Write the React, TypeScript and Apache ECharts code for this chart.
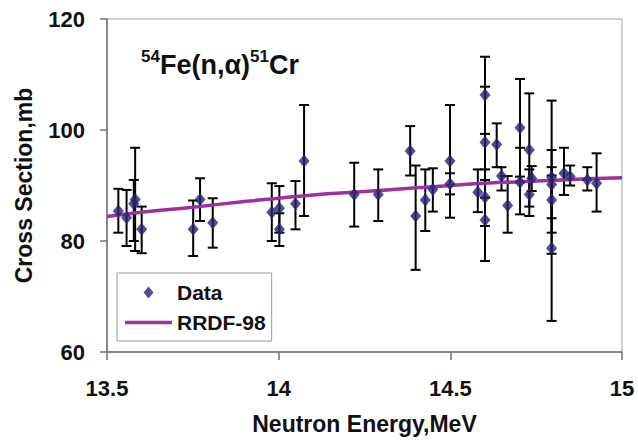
import React, { useEffect, useRef } from "react";
import * as echarts from "echarts";

// Measured data: neutron energy (MeV), cross section (mb), error-bar low / high (mb)
const energy = [
  13.533, 13.557, 13.578, 13.582, 13.601, 13.751, 13.771, 13.808, 13.98, 14.002,
  14.002, 14.049, 14.074, 14.22, 14.29, 14.383, 14.399, 14.427, 14.449, 14.499,
  14.499, 14.58, 14.601, 14.601, 14.601, 14.601, 14.635, 14.649, 14.667, 14.703,
  14.703, 14.73, 14.73, 14.737, 14.795, 14.795, 14.795, 14.795, 14.831, 14.849,
  14.899, 14.926,
];
const sigma = [
  85.4, 84.2, 86.7, 87.5, 82.1, 82.1, 87.5, 83.3, 85.2, 85.9,
  82.1, 86.7, 94.4, 88.4, 88.4, 96.2, 84.5, 87.4, 89.3, 94.4,
  90.3, 88.8, 106.3, 97.8, 87.9, 83.8, 97.4, 91.7, 86.4, 100.4,
  90.6, 96.4, 88.4, 91.3, 91.5, 90.2, 87.4, 78.7, 92.2, 91.6,
  91.0, 90.4,
];
const errLow = [
  81.5, 79.1, 80.0, 78.2, 77.8, 77.3, 83.6, 78.8, 80.0, 81.5,
  79.1, 82.1, 84.5, 82.6, 83.6, 91.8, 74.8, 81.8, 85.3, 84.2,
  88.4, 85.2, 99.3, 87.8, 82.7, 76.4, 93.3, 89.1, 81.5, 91.6,
  84.8, 86.2, 84.5, 89.0, 77.7, 84.1, 81.5, 65.6, 88.3, 90.0,
  89.1, 85.3,
];
const errHigh = [
  89.4, 89.2, 91.0, 96.8, 86.2, 87.3, 91.3, 87.7, 90.4, 89.9,
  85.0, 90.8, 104.5, 94.1, 92.9, 100.7, 93.6, 92.9, 93.1, 104.5,
  92.2, 92.9, 113.2, 107.8, 92.9, 91.0, 101.2, 93.3, 91.7, 109.2,
  96.8, 106.6, 92.9, 93.5, 105.3, 96.4, 93.3, 91.8, 96.8, 93.6,
  93.3, 95.8,
];

// RRDF-98 evaluation curve
const curveE = [13.5, 13.6, 13.75, 13.9, 14.0, 14.1, 14.25, 14.4, 14.5, 14.6, 14.75, 14.9, 15.0];
const curveV = [84.4, 85.2, 86.1, 87.1, 87.7, 88.3, 88.9, 89.6, 90.0, 90.4, 90.8, 91.2, 91.4];

const xTicks = ["13.5", "14", "14.5", "15"];
const yTicks = ["60", "80", "100", "120"];

export default function App() {
  const ref = useRef<HTMLDivElement>(null);
  useEffect(() => {
    if (!ref.current) return;
    const chart = echarts.init(ref.current, null, { renderer: "svg" });
    const font = "Arial, 'Liberation Sans', sans-serif";
    const scatterData = energy.map((e, i) => [e, sigma[i]]);
    const errData = energy.map((e, i) => [e, errLow[i], errHigh[i]]);
    const lineData = curveE.map((e, i) => [e, curveV[i]]);
    chart.setOption({
      animation: false,
      backgroundColor: "#ffffff",
      textStyle: { fontFamily: font },
      grid: {
        left: 107,
        right: 16,
        top: 19,
        bottom: 93,
        show: true,
        borderColor: "#a0a0a0",
        borderWidth: 1,
        backgroundColor: "#ffffff",
      },
      xAxis: {
        type: "value",
        min: 13.5,
        max: 15,
        interval: 0.5,
        name: "Neutron Energy,MeV",
        nameLocation: "middle",
        nameGap: 60,
        nameTextStyle: { fontSize: 23, fontWeight: "bold", color: "#111", fontFamily: font },
        axisLine: { show: true, onZero: false, lineStyle: { color: "#707070", width: 1.5 } },
        axisTick: { show: true, inside: false, length: 8, lineStyle: { color: "#707070", width: 1.5 } },
        axisLabel: {
          margin: 25,
          fontSize: 22,
          fontWeight: "bold",
          color: "#111",
          fontFamily: font,
          formatter: (v: number) => {
            const idx = Math.round((v - 13.5) / 0.5);
            return xTicks[idx] ?? String(v);
          },
        },
        splitLine: { show: false },
      },
      yAxis: {
        type: "value",
        min: 60,
        max: 120,
        interval: 20,
        name: "Cross Section,mb",
        nameLocation: "middle",
        nameGap: 72,
        nameTextStyle: { fontSize: 23, fontWeight: "bold", color: "#111", fontFamily: font },
        axisLine: { show: true, onZero: false, lineStyle: { color: "#707070", width: 1.5 } },
        axisTick: { show: true, inside: false, length: 7, lineStyle: { color: "#707070", width: 1.5 } },
        axisLabel: {
          margin: 22,
          fontSize: 22,
          fontWeight: "bold",
          color: "#111",
          fontFamily: font,
          formatter: (v: number) => {
            const idx = Math.round((v - 60) / 20);
            return yTicks[idx] ?? String(v);
          },
        },
        splitLine: { show: false },
      },
      legend: {
        orient: "vertical",
        left: 117,
        top: 273,
        padding: [9, 6, 8, 8],
        itemGap: 9,
        itemWidth: 47,
        itemHeight: 12,
        symbolKeepAspect: true,
        backgroundColor: "#ffffff",
        borderColor: "#9a9a9a",
        borderWidth: 1,
        borderRadius: 0,
        textStyle: { fontSize: 21, fontWeight: "bold", color: "#111", fontFamily: font },
        data: [
          { name: "Data", icon: "path://M0,6L5,0L10,6L5,12Z" },
          { name: "RRDF-98", icon: "path://M0,0L94,0L94,7L0,7Z" },
        ],
      },
      graphic: [
        {
          type: "text",
          left: 141,
          top: 46,
          z: 100,
          style: {
            text: "{sup|54}{main|Fe(n,α)}{sup|51}{main|Cr}",
            rich: {
              main: { fontSize: 27, fontWeight: "bold", fontFamily: font, fill: "#111", lineHeight: 32, verticalAlign: "bottom" },
              sup: { fontSize: 17, fontWeight: "bold", fontFamily: font, fill: "#111", lineHeight: 32, verticalAlign: "top", padding: [2, 0, 0, 0] },
            },
          },
        },
      ],
      series: [
        {
          name: "errors",
          type: "custom",
          z: 2,
          silent: true,
          encode: { x: 0, y: [1, 2] },
          data: errData,
          renderItem: (params: any, api: any) => {
            const x = api.value(0);
            const lo = api.coord([x, api.value(1)]);
            const hi = api.coord([x, api.value(2)]);
            const hw = 5;
            const st = { stroke: "#000000", lineWidth: 2 };
            return {
              type: "group",
              children: [
                { type: "line", shape: { x1: lo[0], y1: lo[1], x2: hi[0], y2: hi[1] }, style: st },
                { type: "line", shape: { x1: lo[0] - hw, y1: lo[1], x2: lo[0] + hw, y2: lo[1] }, style: st },
                { type: "line", shape: { x1: hi[0] - hw, y1: hi[1], x2: hi[0] + hw, y2: hi[1] }, style: st },
              ],
            };
          },
        },
        {
          name: "RRDF-98",
          type: "line",
          z: 3,
          smooth: true,
          symbol: "none",
          showSymbol: false,
          data: lineData,
          lineStyle: { color: "#9b329f", width: 3.5 },
          itemStyle: { color: "#9b329f" },
        },
        {
          name: "Data",
          type: "scatter",
          z: 4,
          symbol: "diamond",
          symbolSize: [11, 13],
          data: scatterData,
          itemStyle: { color: "#25226f" },
        },
      ],
    });
    return () => chart.dispose();
  }, []);
  return (
    <div
      ref={ref}
      style={{ position: "absolute", left: 0, top: 0, width: 638, height: 445 }}
    />
  );
}
